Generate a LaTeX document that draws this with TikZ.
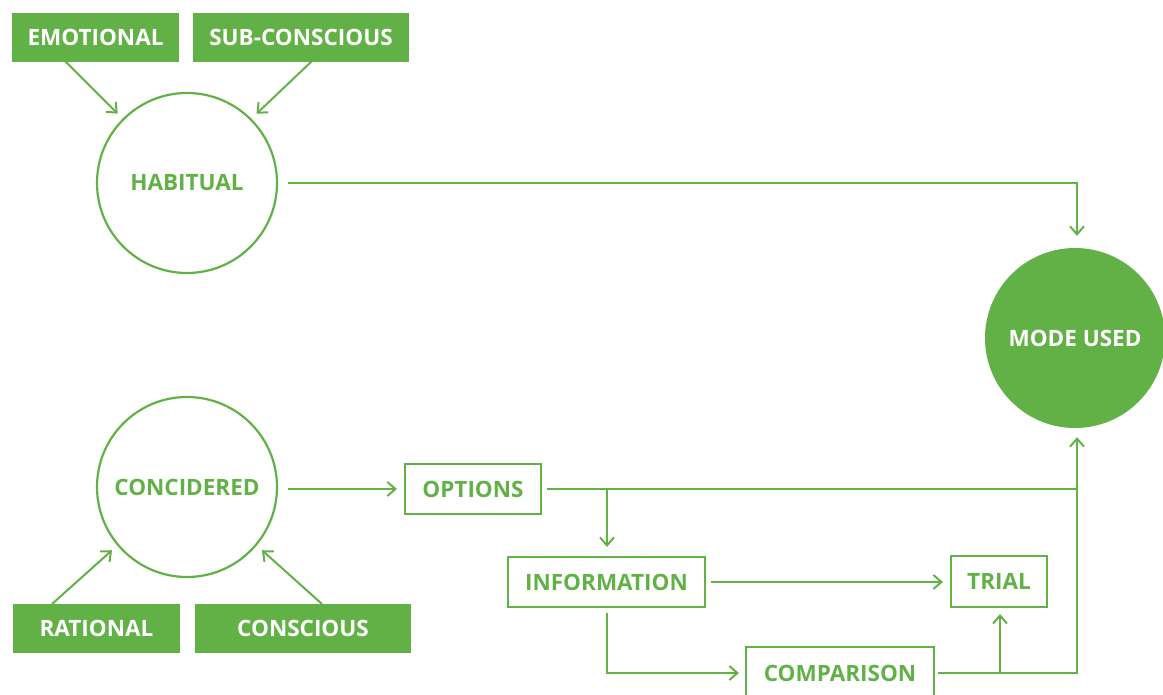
\documentclass[tikz,border=0pt]{standalone}
\usepackage{fontspec}
\setmainfont{Open Sans}
\usetikzlibrary{arrows.meta,calc}
\definecolor{grn}{HTML}{62B146}
\tikzset{
  lbl/.style={font=\bfseries\fontsize{22.5}{26}\selectfont},
  filledbox/.style={lbl, fill=grn, text=white, inner sep=0pt, minimum height=49pt},
  openbox/.style={lbl, draw=grn, line width=2.2pt, text=grn, inner sep=0pt},
  opencirc/.style={lbl, circle, draw=grn, line width=2.2pt, text=grn, minimum size=180pt, inner sep=0pt},
  fullcirc/.style={lbl, circle, fill=grn, text=white, minimum size=180pt, inner sep=0pt},
  conn/.style={draw=grn, line width=2pt},
  arr/.style={conn, -{Straight Barb[length=8pt,width=14pt,line width=2pt]}},
}
\begin{document}
\begin{tikzpicture}[x=1pt,y=-1pt]
\useasboundingbox (0,0) rectangle (1163,695);
\clip (0,0) rectangle (1163,695);
% nodes
\node[filledbox, minimum width=167pt] (emo) at (95.5,37.5) {EMOTIONAL};
\node[filledbox, minimum width=216pt] (sub) at (301,37.5) {SUB-CONSCIOUS};
\node[opencirc] (hab) at (187,183) {HABITUAL};
\node[fullcirc] (mode) at (1075,338) {MODE USED};
\node[opencirc] (con) at (187,487) {CONCIDERED};
\node[filledbox, minimum width=167pt] (rat) at (96.5,628.5) {RATIONAL};
\node[filledbox, minimum width=216pt] (cons) at (303,628.5) {CONSCIOUS};
\node[openbox, minimum width=136pt, minimum height=50pt] (opt) at (473,489) {OPTIONS};
\node[openbox, minimum width=197pt, minimum height=50pt] (info) at (606.5,582) {INFORMATION};
\node[openbox, minimum width=96pt, minimum height=51pt] (trial) at (999,581.5) {TRIAL};
\node[openbox, minimum width=188pt, minimum height=52pt] (comp) at (840,673) {COMPARISON};
% coordinates
\coordinate (es) at (65,61);
\coordinate (ss) at (312,61);
\coordinate (rs) at (52,604);
\coordinate (cs) at (322,604);
\coordinate (jt) at (1077,183);
\coordinate (jo) at (1077,489);
\coordinate (bo) at (607,489);
\coordinate (jc) at (1077,673);
\coordinate (bc) at (1000,673);
% connectors
\draw[arr, shorten >=7pt] (es) -- (hab.135);
\draw[arr, shorten >=7pt] (ss) -- (hab.45);
\draw[arr, shorten >=7pt] (rs) -- (con.220);
\draw[arr, shorten >=7pt] (cs) -- (con.320);
\draw[arr, shorten <=10pt, shorten >=12pt] (hab.east) -- (jt) -- (jt |- mode.north);
\draw[arr, shorten <=10pt, shorten >=7pt] (con.east |- opt.west) -- (opt.west);
\draw[conn, shorten <=5pt] (opt.east) -- (jo);
\draw[arr, shorten >=9pt] (bo) -- (bo |- info.north);
\draw[arr, shorten <=5pt, shorten >=7pt] (info.east) -- (info.east -| trial.west);
\draw[arr, shorten <=5pt, shorten >=6pt] (info.south) |- (comp.west);
\draw[arr, shorten <=3pt, shorten >=9pt] (comp.east) -- (jc) -- (jc |- mode.south);
\draw[arr, shorten >=6pt] (bc) -- (bc |- trial.south);
\end{tikzpicture}
\end{document}
